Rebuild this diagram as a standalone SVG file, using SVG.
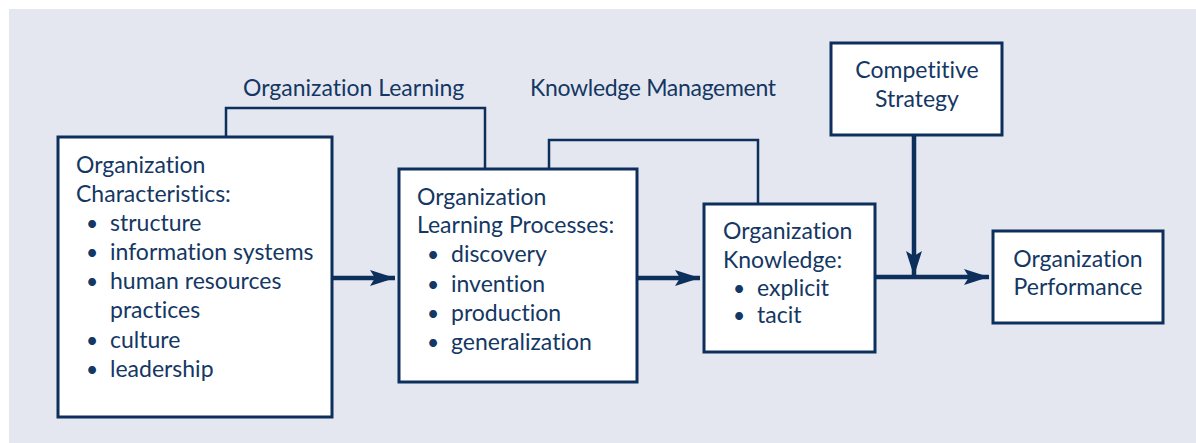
<svg xmlns="http://www.w3.org/2000/svg" width="1196" height="443" viewBox="0 0 1196 443">
<style>
.bg{fill:#e4e7f0}
.box{fill:#ffffff;stroke:#0c2f5c;stroke-width:3}
.thin{fill:none;stroke:#0c2f5c;stroke-width:2.5}
.thick{fill:none;stroke:#0c2f5c;stroke-width:4.5}
text{font-family:Lato,"Open Sans",sans-serif;font-size:23px;fill:#143763;font-variant-ligatures:none}
.c{text-anchor:middle}
.b{text-anchor:middle;font-size:21px}
</style>
<defs>
<marker id="ah" markerUnits="userSpaceOnUse" markerWidth="26" markerHeight="18" refX="25" refY="8" orient="auto" viewBox="0 0 26 16">
<path d="M0,0 L25,8 L0,16 L5,8 Z" fill="#0c2f5c"/>
</marker>
</defs>
<rect class="bg" x="9" y="9" width="1187" height="434"/>
<g id="connectors">
<path class="thin" d="M226,137 V108 H485 V169"/>
<path class="thin" d="M549,169 V140 H758 V204"/>
<line class="thick" x1="332" y1="278" x2="395" y2="278" marker-end="url(#ah)"/>
<line class="thick" x1="637" y1="278" x2="700" y2="278" marker-end="url(#ah)"/>
<line class="thick" x1="875" y1="277" x2="989" y2="277" marker-end="url(#ah)"/>
<line class="thick" x1="914" y1="135" x2="914" y2="276" marker-end="url(#ah)"/>
<text x="243" y="96">Organization Learning</text>
<text x="530" y="96" textLength="246">Knowledge Management</text>
</g>
<g id="org-characteristics">
<rect class="box" x="58" y="137" width="274" height="280"/>
<text x="76" y="173">Organization</text>
<text x="76" y="202">Characteristics:</text>
<text class="b" x="92" y="231">•</text><text x="110" y="231">structure</text>
<text class="b" x="92" y="260">•</text><text x="110" y="260">information systems</text>
<text class="b" x="92" y="289">•</text><text x="110" y="289">human resources</text>
<text x="110" y="318">practices</text>
<text class="b" x="92" y="348">•</text><text x="110" y="348">culture</text>
<text class="b" x="92" y="377">•</text><text x="110" y="377">leadership</text>
</g>
<g id="org-learning-processes">
<rect class="box" x="399" y="169" width="238" height="213"/>
<text x="417" y="205">Organization</text>
<text x="417" y="233">Learning Processes:</text>
<text class="b" x="433" y="262">•</text><text x="451" y="262">discovery</text>
<text class="b" x="433" y="292">•</text><text x="451" y="292">invention</text>
<text class="b" x="433" y="321">•</text><text x="451" y="321">production</text>
<text class="b" x="433" y="350">•</text><text x="451" y="350">generalization</text>
</g>
<g id="org-knowledge">
<rect class="box" x="704" y="204" width="171" height="148"/>
<text x="723" y="239">Organization</text>
<text x="723" y="268">Knowledge:</text>
<text class="b" x="739" y="296">•</text><text x="757" y="296">explicit</text>
<text class="b" x="739" y="323">•</text><text x="757" y="323">tacit</text>
</g>
<g id="competitive-strategy">
<rect class="box" x="831" y="43" width="171" height="92"/>
<text class="c" x="917" y="78">Competitive</text>
<text class="c" x="917" y="107">Strategy</text>
</g>
<g id="org-performance">
<rect class="box" x="993" y="231" width="170" height="92"/>
<text class="c" x="1078" y="267">Organization</text>
<text class="c" x="1078" y="295">Performance</text>
</g>
</svg>
